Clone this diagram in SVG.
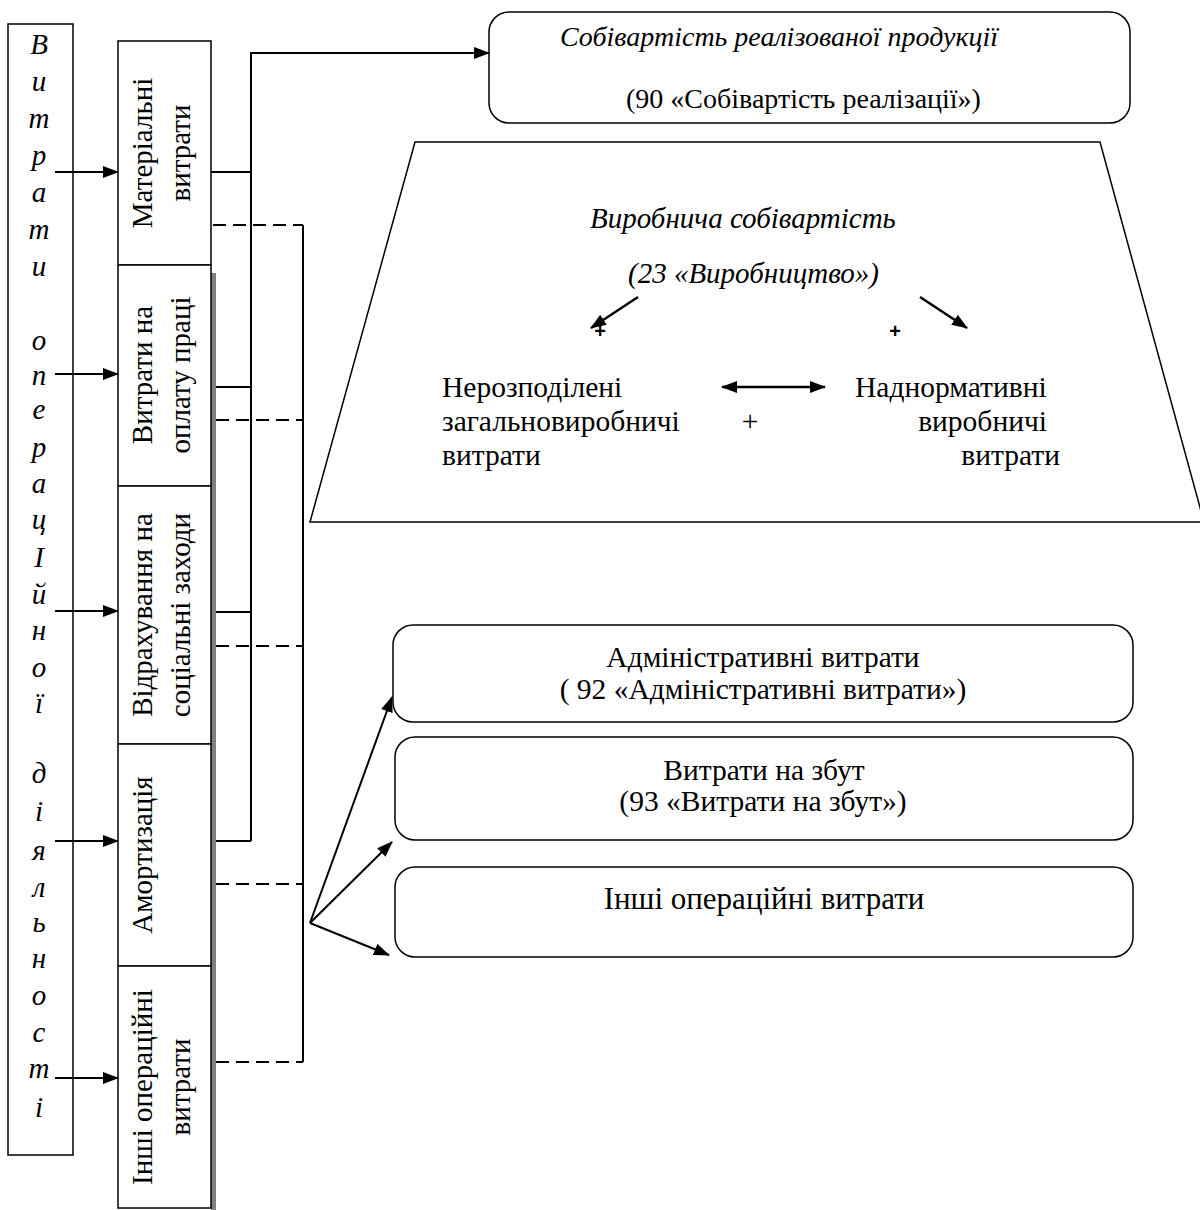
<svg xmlns="http://www.w3.org/2000/svg" width="1200" height="1210" viewBox="0 0 1200 1210">
<defs>
<style>
text{font-family:"Liberation Serif","Times New Roman",serif;fill:#000}
.t{font-size:28px}
.m{font-size:29.5px}
.i{font-size:28px;font-style:italic}
.v{font-size:29px;font-style:italic}
.r{font-size:29px}
.box{fill:#fff;stroke:#000;stroke-width:1.5}
.ln{fill:none;stroke:#000;stroke-width:2}
.dl{fill:none;stroke:#000;stroke-width:2;stroke-dasharray:13 7}
.ar{fill:none;stroke:#000;stroke-width:2;marker-end:url(#ah)}
.ab{fill:none;stroke:#000;stroke-width:2.5;marker-end:url(#ah)}
</style>
<marker id="ah" viewBox="0 0 16 12" refX="15" refY="6" markerWidth="16" markerHeight="12" markerUnits="userSpaceOnUse" orient="auto">
<path d="M0,0 L16,6 L0,12 Z" fill="#000"/>
</marker>
<marker id="as" viewBox="0 0 16 12" refX="1" refY="6" markerWidth="16" markerHeight="12" markerUnits="userSpaceOnUse" orient="auto">
<path d="M16,0 L0,6 L16,12 Z" fill="#000"/>
</marker>
</defs>
<rect width="1200" height="1210" fill="#fff"/>

<g id="left-label">
<rect class="box" x="8" y="24" width="65" height="1131"/>
<g class="v" text-anchor="middle">
<text x="39" y="54">В</text><text x="39" y="91">и</text><text x="39" y="128">т</text><text x="39" y="165">р</text><text x="39" y="202">а</text><text x="39" y="239">т</text><text x="39" y="276">и</text>
<text x="39" y="350">о</text><text x="39" y="385">п</text><text x="39" y="419">е</text><text x="39" y="457">р</text><text x="39" y="493">а</text><text x="39" y="529">ц</text><text x="39" y="567">І</text><text x="39" y="604">й</text><text x="39" y="640">н</text><text x="39" y="677">о</text><text x="39" y="713">ї</text>
<text x="39" y="783">д</text><text x="39" y="821">і</text><text x="39" y="860">я</text><text x="39" y="897">л</text><text x="39" y="932">ь</text><text x="39" y="968">н</text><text x="39" y="1005">о</text><text x="39" y="1042">с</text><text x="39" y="1078">т</text><text x="39" y="1117">і</text>
</g>
</g>

<rect x="211" y="273" width="5" height="937" fill="#808080"/>

<g id="col-material">
<rect class="box" x="118" y="41" width="93" height="224"/>
<text class="r" text-anchor="middle" transform="translate(152,153) rotate(-90)">Матеріальні</text>
<text class="r" text-anchor="middle" transform="translate(190,153) rotate(-90)">витрати</text>
</g>
<g id="col-labour">
<rect class="box" x="118" y="265" width="93" height="221"/>
<text class="r" text-anchor="middle" transform="translate(152,375) rotate(-90)">Витрати на</text>
<text class="r" text-anchor="middle" transform="translate(190,375) rotate(-90)">оплату праці</text>
</g>
<g id="col-social">
<rect class="box" x="118" y="486" width="93" height="258"/>
<text class="r" text-anchor="middle" transform="translate(152,615) rotate(-90)">Відрахування на</text>
<text class="r" text-anchor="middle" transform="translate(190,615) rotate(-90)">соціальні заходи</text>
</g>
<g id="col-amort">
<rect class="box" x="118" y="744" width="93" height="222"/>
<text class="r" text-anchor="middle" transform="translate(152,855) rotate(-90)">Амортизація</text>
</g>
<g id="col-other">
<rect class="box" x="118" y="966" width="93" height="242"/>
<text class="r" text-anchor="middle" transform="translate(152,1087) rotate(-90)">Інші операційні</text>
<text class="r" text-anchor="middle" transform="translate(190,1087) rotate(-90)">витрати</text>
</g>

<g id="cost-of-sales">
<rect class="box" x="489" y="12" width="641" height="111" rx="20" ry="20"/>
<text class="i" x="560" y="46">Собівартість реалізованої продукції</text>
<text class="t" x="626" y="108">(90 «Собівартість реалізації»)</text>
</g>

<g id="production-cost">
<polygon class="box" points="415,142 1100,142 1204,522 310,522"/>
<text class="i" x="590" y="228" style="font-size:29px">Виробнича собівартість</text>
<text class="i" x="628" y="283" style="font-size:29px">(23 «Виробництво»)</text>
<text x="600" y="338" text-anchor="middle" style="font-family:'Liberation Sans',Arial,sans-serif;font-size:20px;font-weight:bold">+</text>
<text x="895" y="338" text-anchor="middle" style="font-family:'Liberation Sans',Arial,sans-serif;font-size:20px;font-weight:bold">+</text>
<text class="m" x="442" y="397">Нерозподілені</text>
<text class="m" x="442" y="431">загальновиробничі</text>
<text class="m" x="442" y="465">витрати</text>
<text class="m" x="750" y="431" text-anchor="middle">+</text>
<text class="m" x="855" y="397">Наднормативні</text>
<text class="m" x="1047" y="431" text-anchor="end">виробничі</text>
<text class="m" x="1060" y="465" text-anchor="end">витрати</text>
<line class="ab" x1="638" y1="297" x2="591" y2="328"/>
<line class="ab" x1="920" y1="297" x2="967" y2="328"/>
<line class="ab" x1="722" y1="387" x2="825" y2="387" style="marker-start:url(#as)"/>
</g>

<g id="admin">
<rect class="box" x="393" y="625" width="740" height="97" rx="20" ry="20"/>
<text class="m" x="763" y="667" text-anchor="middle">Адміністративні витрати</text>
<text class="m" x="763" y="699" text-anchor="middle">( 92 «Адміністративні витрати»)</text>
</g>
<g id="selling">
<rect class="box" x="395" y="737" width="738" height="103" rx="20" ry="20"/>
<text class="m" x="764" y="780" text-anchor="middle">Витрати на збут</text>
<text class="m" x="763" y="811" text-anchor="middle">(93 «Витрати на збут»)</text>
</g>
<g id="other-op">
<rect class="box" x="395" y="867" width="738" height="90" rx="20" ry="20"/>
<text x="764" y="909" text-anchor="middle" style="font-size:31px">Інші операційні витрати</text>
</g>

<g id="connectors">
<line class="ar" x1="55" y1="172" x2="118" y2="172"/>
<line class="ar" x1="55" y1="374" x2="118" y2="374"/>
<line class="ar" x1="55" y1="611" x2="118" y2="611"/>
<line class="ar" x1="55" y1="841" x2="118" y2="841"/>
<line class="ar" x1="55" y1="1078" x2="118" y2="1078"/>
<line class="ln" x1="211" y1="172" x2="251" y2="172"/>
<line class="ln" x1="216" y1="387" x2="251" y2="387"/>
<line class="ln" x1="216" y1="612" x2="251" y2="612"/>
<line class="ln" x1="216" y1="841" x2="251" y2="841"/>
<line class="ln" x1="251" y1="841" x2="251" y2="53"/>
<line class="ar" x1="250" y1="53" x2="489" y2="53"/>
<line class="dl" x1="213" y1="225" x2="303" y2="225"/>
<line class="dl" x1="216" y1="420" x2="303" y2="420"/>
<line class="dl" x1="216" y1="646" x2="303" y2="646"/>
<line class="dl" x1="216" y1="884" x2="303" y2="884"/>
<line class="dl" x1="216" y1="1062" x2="303" y2="1062"/>
<line class="ln" x1="303" y1="225" x2="303" y2="1062"/>
<line class="ar" x1="310" y1="923" x2="392" y2="697"/>
<line class="ar" x1="310" y1="923" x2="392" y2="842"/>
<line class="ar" x1="310" y1="923" x2="389" y2="955"/>
</g>
</svg>
